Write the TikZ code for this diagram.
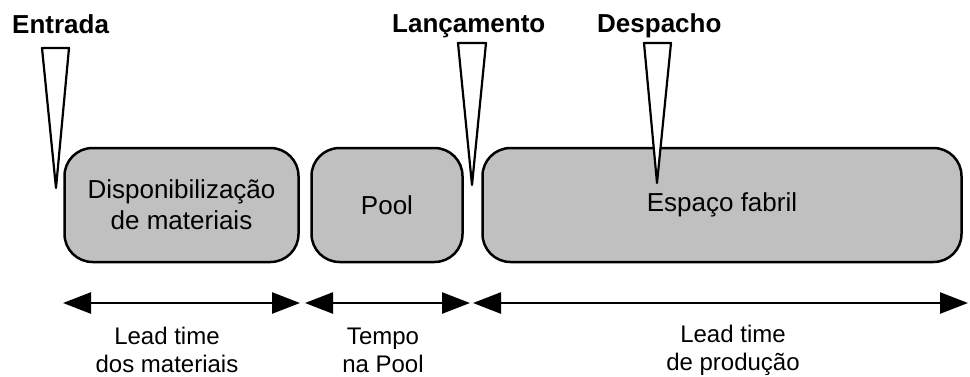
\documentclass[tikz,border=0pt]{standalone}
\usepackage{fontspec}
\setmainfont{Liberation Sans}
\usepackage{xcolor}
\usetikzlibrary{arrows.meta,positioning}
\definecolor{boxgray}{RGB}{192,192,192}

\begin{document}
\begin{tikzpicture}[
    x=1pt, y=-1pt,
    stage/.style={draw, line width=2.5pt, rounded corners=28pt, fill=boxgray, minimum height=114pt, inner sep=0pt, align=center, font=\fontsize{26}{31}\selectfont},
    event/.style={anchor=base west, inner sep=0pt, font=\bfseries\fontsize{26}{31}\selectfont},
    wedge/.style={draw, fill=white, line width=2.2pt, line join=round},
    span/.style={{Triangle[length=28pt,width=21pt]}-{Triangle[length=28pt,width=21pt]}, line width=2.5pt},
    note/.style={align=center, inner sep=0pt, font=\fontsize{24}{28}\selectfont}
]
\useasboundingbox (0,0) rectangle (970,376);

    % the three stages
    \node[stage, minimum width=234pt] (mat) at (181.5,205) {Disponibilização\\de materiais};
    \node[stage, minimum width=151pt] (pool) at (387,205) {Pool};
    \node[stage, minimum width=479pt] (fab) at (722,205) {Espaço fabril};

    % events on top
    \node[event] (entrada) at (12,33) {Entrada};
    \node[event] (lanc) at (392,32) {Lançamento};
    \node[event] (desp) at (597,32) {Despacho};

    \draw[wedge] (42,48) -- (69,48) -- (56,188) -- cycle;
    \draw[wedge] (458,43) -- (486,43) -- (472,185) -- cycle;
    \draw[wedge] (644,43) -- (671,43) -- (657,183) -- cycle;

    % time spans
    \coordinate (s0) at (63,303);
    \coordinate (s1) at (300,303);
    \coordinate (s2) at (305,303);
    \coordinate (s3) at (470,303);
    \coordinate (s4) at (473,303);
    \coordinate (s5) at (968,303);

    \draw[span] (s0) -- (s1);
    \draw[span] (s2) -- (s3);
    \draw[span] (s4) -- (s5);

    \node[note] (ltmat) at (167,350) {Lead time\\dos materiais};
    \node[note] (tpool) at (383,350) {Tempo\\na Pool};
    \node[note] (ltprod) at (733,350) {Lead time\\de produção};

\end{tikzpicture}
\end{document}
